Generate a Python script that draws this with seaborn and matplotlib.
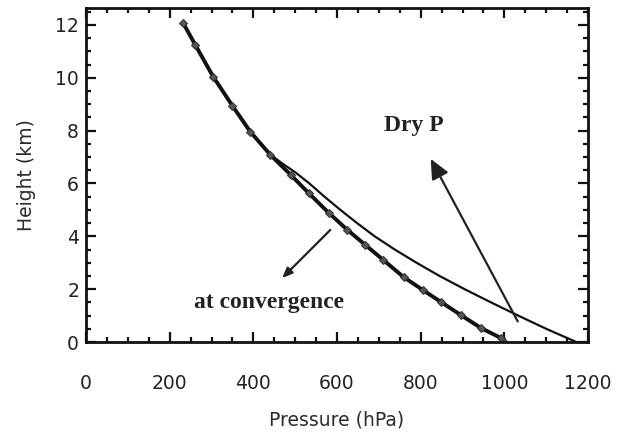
import matplotlib
matplotlib.use("Agg")
import matplotlib.pyplot as plt
import seaborn as sns
import pandas as pd
from matplotlib.ticker import MultipleLocator

# Data
conv_pressure = [1000, 992, 944, 896, 848, 805, 759, 711, 668, 625, 580, 532, 489, 441, 393, 350, 304, 261, 232]
conv_height = [0.0, 0.15, 0.53, 1.02, 1.52, 1.97, 2.46, 3.10, 3.67, 4.24, 4.89, 5.64, 6.33, 7.08, 7.95, 8.94, 10.04, 11.25, 12.08]

dry_pressure = [1172, 1100, 1033, 968, 905, 845, 790, 738, 690, 648, 608, 570, 534, 502, 470, 441, 393, 350, 304, 261, 232]
dry_height = [0.0, 0.5, 1.0, 1.5, 2.0, 2.5, 3.0, 3.5, 4.0, 4.5, 5.0, 5.5, 6.0, 6.4, 6.75, 7.08, 7.95, 8.94, 10.04, 11.25, 12.08]

x_ticks = [0, 200, 400, 600, 800, 1000, 1200]
y_ticks = [0, 2, 4, 6, 8, 10, 12]

sns.set_style("ticks")
plt.rcParams['font.family'] = ['DejaVu Sans']

fig = plt.figure(figsize=(6.17, 4.38), dpi=100)
ax = fig.add_axes([86/617, 1-342/438, (588-86)/617, (342-8)/438])

conv = pd.DataFrame({"Pressure": conv_pressure, "Height": conv_height})
dry = pd.DataFrame({"Pressure": dry_pressure, "Height": dry_height})

sns.lineplot(data=dry, x="Pressure", y="Height", sort=False, ax=ax,
             color="#111111", linewidth=1.6)
sns.lineplot(data=conv, x="Pressure", y="Height", sort=False, ax=ax,
             color="#111111", linewidth=2.8, marker="D", markersize=4.5,
             markerfacecolor="#555555", markeredgecolor="#333333")

ax.set_xlim(0, 1200)
ax.set_ylim(0, 12.64)
ax.set_xticks(x_ticks)
ax.set_yticks(y_ticks)
ax.xaxis.set_minor_locator(MultipleLocator(50))
ax.yaxis.set_minor_locator(MultipleLocator(0.5))
ax.tick_params(which="both", direction="in", top=True, right=True, width=1.6, color="#111111")
ax.tick_params(which="major", length=7)
ax.tick_params(which="minor", length=3.5)
ax.tick_params(axis="x", which="major", pad=23, labelsize=13.5, labelcolor="#222222")
ax.tick_params(axis="y", which="major", pad=5, labelsize=13.5, labelcolor="#222222")
for s in ax.spines.values():
    s.set_linewidth(2.0)
    s.set_color("#111111")

ax.set_xlabel("Pressure (hPa)", fontsize=13.5, color="#2a2a2a", labelpad=13)
ax.set_ylabel("Height (km)", fontsize=13.5, color="#2a2a2a", labelpad=14)

# Annotations
ax.annotate("", xy=(824, 6.93), xytext=(1032, 0.78),
            arrowprops=dict(arrowstyle="-|>,head_length=1.2,head_width=0.55",
                            color="#222222", lw=1.6, shrinkA=0, shrinkB=0))
ax.text(783, 8.18, "Dry P", fontsize=17, fontweight="bold",
        family=["Liberation Serif"], ha="center", va="center", color="#222222")

ax.annotate("", xy=(469, 2.42), xytext=(584, 4.24),
            arrowprops=dict(arrowstyle="-|>,head_length=0.6,head_width=0.25",
                            color="#222222", lw=1.6, shrinkA=0, shrinkB=0))
ax.text(438, 1.48, "at convergence", fontsize=17, fontweight="bold",
        family=["Liberation Serif"], ha="center", va="center", color="#222222")

fig.savefig("out.png", dpi=100)
